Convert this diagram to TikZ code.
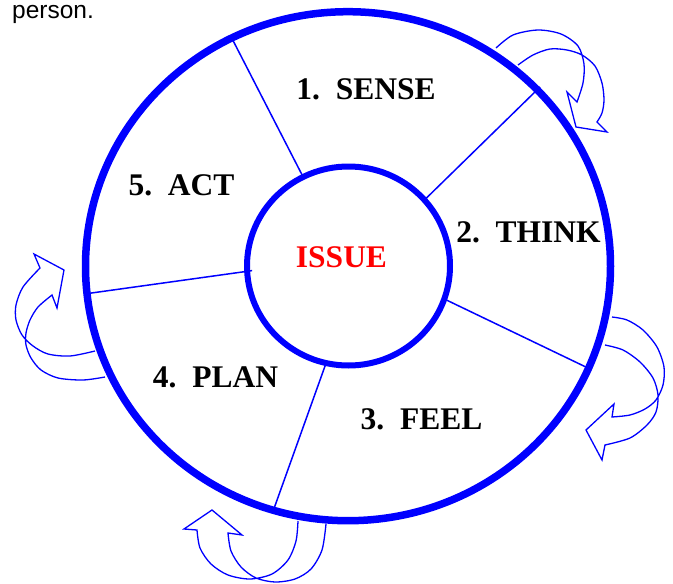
\documentclass[tikz,border=0pt]{standalone}
\usepackage{fontspec}
\setmainfont{Liberation Serif}
\newfontfamily\sansf{Liberation Sans}
\usetikzlibrary{shapes.geometric}
\begin{document}
\begin{tikzpicture}[x=1pt,y=-1pt,
  ring/.style={draw=blue, ellipse, inner sep=0pt, outer sep=0pt},
  spoke/.style={draw=blue, line width=1.5pt},
  bentarrow/.style={draw=blue, line width=1.3pt, line join=miter},
  lbl/.style={font=\fontsize{31.5}{36}\selectfont\bfseries, text=black, inner sep=0pt, anchor=base},
  note/.style={font=\sansf\fontsize{24.5}{28}\selectfont, inner sep=0pt, anchor=base west}]
\useasboundingbox (0,0) rectangle (673,584);

\node[note] (person) at (12,18.5) {person.};

% rings
\node[ring, line width=7.5pt, minimum width=525pt, minimum height=509pt] (outer) at (348,266.2) {};
\node[ring, line width=6pt, minimum width=203pt, minimum height=199pt] (inner) at (348.5,266) {};

% spokes
\draw[spoke] (inner.117.8) -- (outer.117.0);
\draw[spoke, shorten >=-4pt] (inner.41.2) -- (outer.43.6);
\draw[spoke] (inner.-19.3) -- (outer.-23.2);
\draw[spoke] (inner.257.1) -- (outer.253.9);
\draw[spoke, shorten <=-5pt] (inner.183.5) -- (outer.186.9);

% labels
\node[lbl] (sense) at (366,99) {1.\hspace{0.5em}SENSE};
\node[lbl] (think) at (528.5,242) {2.\hspace{0.5em}THINK};
\node[lbl] (feel) at (421.5,429) {3.\hspace{0.5em}FEEL};
\node[lbl] (plan) at (215.5,387) {4.\hspace{0.5em}PLAN};
\node[lbl] (act) at (181.5,195) {5.\hspace{0.5em}ACT};
\node[lbl, text=red] (issue) at (341.5,267) {ISSUE};

% curved block arrows
% top right
\draw[bentarrow] plot[smooth] coordinates {(496,48) (513,35) (538,30) (561,34) (578,46) (584,64) (583,83) (577,102)}
  -- (567,92) -- (576,127) -- (607,132) -- (597,122)
  -- plot[smooth] coordinates {(597,122) (602,113) (604,100) (602,83) (595,66) (582,55) (567,50) (550,49) (533,55) (518,65)};
% right
\draw[bentarrow] plot[smooth] coordinates {(612,317) (627,320) (643,330) (657,347) (664,367) (663,385) (656,400) (645,409) (630,415) (612,417)}
  -- (614,404) -- (586,430) -- (602,460) -- (605,445)
  -- plot[smooth] coordinates {(605,445) (630,438) (647,425) (656,412) (658,395) (653,378) (640,362) (623,350) (605,345)};
% bottom
\draw[bentarrow] plot[smooth] coordinates {(298,521) (296,541) (288,560) (272,574) (250,579) (228,575) (211,564) (200,548) (197,530)}
  -- (184,529) -- (212,510) -- (242,535) -- (228,533)
  -- plot[smooth] coordinates {(228,533) (231,551) (241,567) (256,578) (275,582) (295,579) (311,569) (322,550) (326,524)};
% left
\draw[bentarrow] plot[smooth] coordinates {(95,351) (70,356) (48,354) (33,346) (22,335) (16,320) (16,305) (23,287) (40,268)}
  -- (34,254) -- (64,270) -- (57,308) -- (52,295)
  -- plot[smooth] coordinates {(52,295) (38,307) (30,320) (26,333) (26,345) (31,358) (41,370) (58,378) (83,380) (105,377)};
\end{tikzpicture}
\end{document}
